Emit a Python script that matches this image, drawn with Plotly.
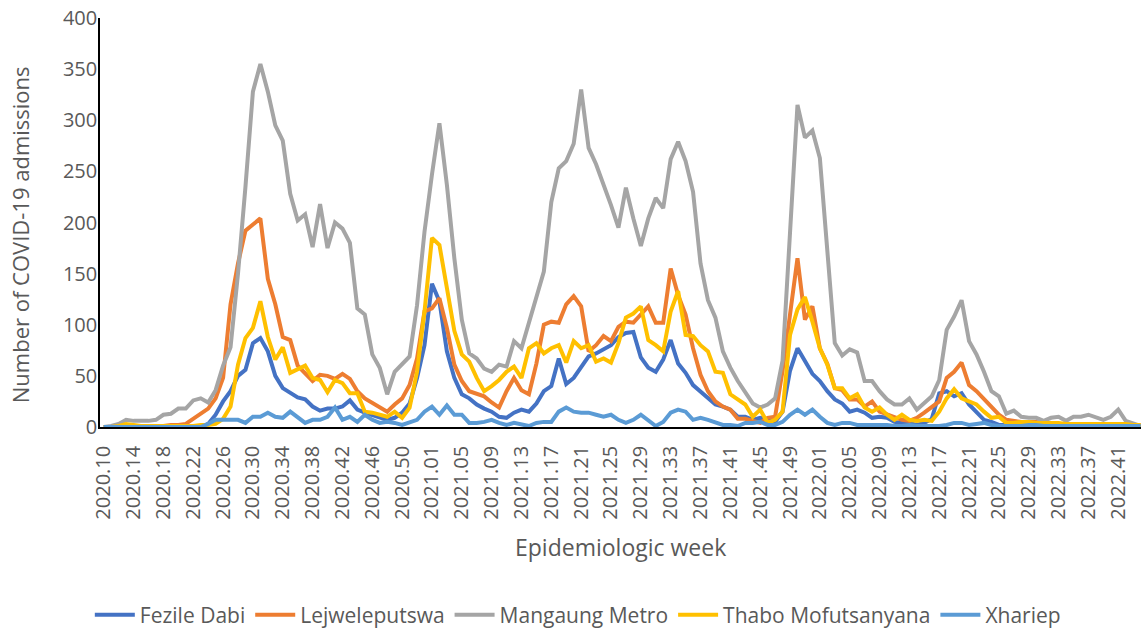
import plotly.graph_objects as go

# Epidemiologic week categories (2020 has 53 weeks, 2021 has 52)
weeks_2020 = [f"2020.{w:02d}" for w in range(10, 54)]
weeks_2021 = [f"2021.{w:02d}" for w in range(1, 53)]
weeks_2022 = [f"2022.{w:02d}" for w in range(1, 45)]
categories = weeks_2020 + weeks_2021 + weeks_2022
tick_labels = categories[::4]

fezile_dabi = [
    0, 0, 0, 0, 0, 0, 0, 0, 0, 0, 0, 0, 0, 0, 3, 12, 25, 35, 50, 56,
    82, 87, 74, 50, 38, 33, 29, 27, 20, 16, 18, 18, 20, 26, 17, 14, 12, 9, 7, 9,
    14, 23, 48, 80, 140, 123, 74, 48, 32, 28, 22, 18, 15, 10, 9, 14, 17, 15, 23, 35,
    40, 67, 42, 48, 58, 69, 72, 76, 80, 88, 92, 93, 68, 58, 54, 66, 85, 62, 53, 41,
    35, 28, 22, 20, 17, 10, 10, 7, 9, 7, 5, 15, 55, 77, 65, 52, 45, 35, 27, 23,
    15, 17, 14, 9, 10, 9, 5, 4, 4, 2, 4, 8, 33, 35, 30, 33, 22, 15, 7, 5,
    2, 2, 2, 2, 2, 2, 1, 1, 1, 1, 1, 1, 1, 1, 1, 1, 1, 1, 1, 1,
]
lejweleputswa = [
    0, 0, 0, 0, 1, 1, 1, 1, 1, 2, 2, 3, 8, 13, 18, 28, 48, 120, 160, 192,
    198, 204, 145, 120, 88, 85, 60, 53, 45, 51, 50, 47, 52, 47, 35, 28, 24, 20, 15, 22,
    28, 41, 67, 113, 116, 126, 97, 61, 45, 35, 32, 30, 24, 19, 35, 48, 36, 32, 62, 100,
    103, 102, 120, 128, 118, 74, 80, 89, 84, 98, 103, 102, 110, 118, 102, 102, 155, 129, 110, 77,
    51, 35, 25, 20, 17, 8, 8, 6, 4, 9, 10, 55, 113, 165, 105, 118, 77, 62, 38, 36,
    27, 27, 20, 25, 15, 12, 10, 7, 6, 9, 14, 19, 25, 48, 54, 63, 41, 35, 27, 19,
    12, 7, 6, 5, 5, 5, 4, 4, 3, 3, 3, 3, 3, 3, 3, 3, 3, 2, 2, 2,
]
mangaung_metro = [
    0, 1, 3, 7, 6, 6, 6, 7, 12, 13, 18, 18, 26, 28, 24, 36, 60, 78, 150, 235,
    328, 355, 328, 295, 280, 228, 202, 208, 176, 218, 175, 200, 194, 180, 116, 110, 71, 58, 32, 54,
    61, 69, 119, 191, 247, 297, 237, 165, 105, 72, 67, 57, 54, 61, 59, 84, 77, 103, 129, 152,
    220, 253, 260, 277, 330, 273, 257, 238, 217, 195, 234, 204, 177, 204, 224, 214, 262, 279, 260, 230,
    160, 124, 107, 74, 58, 45, 34, 23, 19, 22, 28, 65, 190, 315, 283, 290, 263, 178, 82, 70,
    76, 73, 45, 45, 35, 27, 22, 22, 28, 17, 23, 30, 46, 95, 108, 124, 84, 71, 54, 35,
    30, 13, 16, 10, 9, 9, 6, 9, 10, 6, 10, 10, 12, 9, 7, 10, 17, 6, 4, 1,
]
thabo_mofutsanyana = [
    0, 0, 1, 3, 2, 1, 1, 1, 1, 1, 1, 1, 1, 2, 2, 3, 8, 20, 61, 87,
    97, 123, 88, 66, 78, 53, 56, 60, 48, 46, 34, 46, 43, 33, 33, 15, 14, 12, 10, 15,
    9, 19, 54, 113, 185, 178, 136, 94, 71, 64, 48, 35, 40, 46, 54, 59, 48, 77, 82, 72,
    77, 80, 63, 84, 77, 80, 64, 67, 63, 82, 107, 111, 118, 85, 80, 74, 113, 133, 90, 89,
    80, 74, 54, 53, 32, 27, 22, 10, 17, 4, 7, 15, 90, 115, 127, 103, 77, 61, 38, 38,
    28, 32, 19, 15, 19, 12, 7, 12, 7, 6, 7, 6, 15, 28, 37, 28, 25, 22, 15, 9,
    10, 4, 4, 5, 5, 4, 4, 4, 4, 3, 3, 3, 3, 3, 3, 3, 3, 3, 2, 2,
]
xhariep = [
    0, 0, 0, 0, 0, 0, 0, 0, 0, 0, 0, 0, 0, 0, 3, 7, 7, 7, 7, 4,
    10, 10, 14, 10, 9, 15, 9, 4, 7, 7, 10, 19, 7, 10, 5, 12, 7, 4, 5, 4,
    2, 5, 7, 15, 20, 12, 21, 12, 12, 4, 4, 5, 7, 4, 2, 4, 2, 1, 4, 5,
    5, 15, 19, 15, 14, 14, 12, 10, 12, 7, 4, 7, 12, 7, 1, 5, 14, 17, 15, 7,
    9, 7, 4, 2, 2, 1, 4, 4, 5, 2, 2, 5, 12, 17, 12, 17, 10, 4, 2, 4,
    4, 2, 2, 2, 2, 2, 1, 1, 2, 1, 1, 1, 1, 2, 4, 4, 2, 3, 4, 2,
    1, 1, 1, 1, 2, 2, 1, 1, 1, 1, 1, 1, 1, 1, 1, 1, 1, 1, 1, 1,
]

series = [
    ("Fezile Dabi", fezile_dabi, "#4472C4"),
    ("Lejweleputswa", lejweleputswa, "#ED7D31"),
    ("Mangaung Metro", mangaung_metro, "#A5A5A5"),
    ("Thabo Mofutsanyana", thabo_mofutsanyana, "#FFC000"),
    ("Xhariep", xhariep, "#5B9BD5"),
]

fig = go.Figure()
for name, vals, color in series:
    fig.add_trace(go.Scatter(
        x=categories, y=vals, name=name, mode="lines",
        line=dict(color=color, width=4),
    ))

FONT = "Open Sans, DejaVu Sans, sans-serif"

fig.update_layout(
    width=1141, height=632,
    margin=dict(l=100, r=0, t=18, b=205, autoexpand=False),
    paper_bgcolor="white", plot_bgcolor="white",
    showlegend=True,
    legend=dict(
        orientation="h", x=0.459, y=-0.46, xanchor="center", yanchor="middle",
        font=dict(family=FONT, size=21, color="#595959"),
        itemwidth=40, tracegroupgap=0,
    ),
    xaxis=dict(
        type="category", categoryorder="array", categoryarray=categories,
        range=[-0.5, 139.05],
        tickmode="array", tickvals=tick_labels, ticktext=tick_labels,
        tickangle=-90, tickfont=dict(family=FONT, size=20, color="#595959"),
        showline=True, linecolor="black", linewidth=1.5,
        showgrid=False, zeroline=False, ticks="",
        ticklabelstandoff=9,
    ),
    yaxis=dict(
        range=[0, 400], dtick=50, tick0=0,
        tickfont=dict(family=FONT, size=20, color="#595959"),
        showline=True, linecolor="black", linewidth=1.5,
        showgrid=False, zeroline=False, ticks="",
        ticklabeloverflow="allow", ticklabelstandoff=-3,
    ),
    annotations=[
        dict(text="Number of COVID-19 admissions", xref="paper", yref="paper",
             x=-0.0768, y=0.469, textangle=-90, showarrow=False,
             xanchor="center", yanchor="middle",
             font=dict(family=FONT, size=22, color="#595959")),
        dict(text="Epidemiologic week", xref="paper", yref="paper",
             x=0.5, y=-0.293, showarrow=False, xanchor="center", yanchor="middle",
             font=dict(family=FONT, size=23, color="#595959")),
    ],
)

# Remove the browser's default 8px body margin so the figure fills the window.
fig.write_html(
    "out.html",
    config={"displayModeBar": False},
    post_script="document.body.style.margin='0';",
)
